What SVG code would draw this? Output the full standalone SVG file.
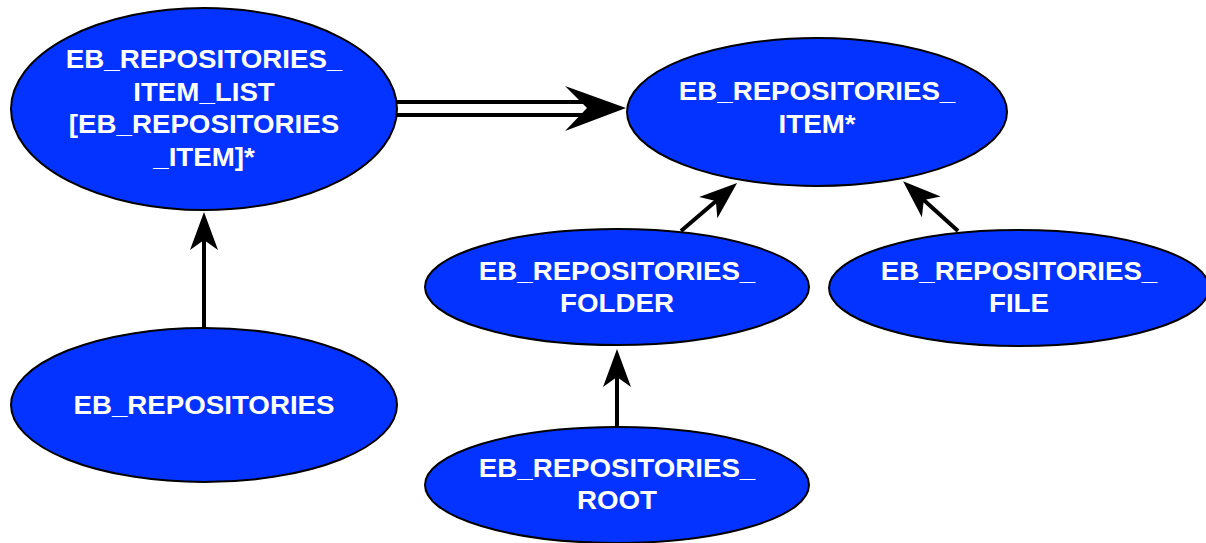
<svg xmlns="http://www.w3.org/2000/svg" width="1206" height="543" viewBox="0 0 1206 543">
  <defs>
    <style>
      .node ellipse { fill: #0433ff; stroke: #000; stroke-width: 2; }
      .node text { fill: #fff; font-family: "Liberation Sans", Arial, sans-serif; font-weight: bold; font-size: 25px; text-anchor: middle; }
      .edge { stroke: #000; stroke-width: 4; fill: none; }
      .head { fill: #000; stroke: none; }
    </style>
    <marker id="arrow" markerUnits="userSpaceOnUse" markerWidth="40" markerHeight="30" viewBox="-40 -15 40 30" refX="-10" refY="0" orient="auto">
      <path class="head" d="M0,0 L-38,-14 L-28,0 L-38,14 Z"/>
    </marker>
  </defs>

  <rect width="1206" height="543" fill="#fff"/>

  <g id="item_list" class="node">
    <ellipse cx="204" cy="109" rx="193" ry="101"/>
    <g transform="translate(204 0) scale(1.108 1)">
      <text x="0" y="68">EB_REPOSITORIES_</text>
      <text x="0" y="101">ITEM_LIST</text>
      <text x="0" y="133">[EB_REPOSITORIES</text>
      <text x="0" y="166">_ITEM]*</text>
    </g>
  </g>

  <g id="item" class="node">
    <ellipse cx="817" cy="112" rx="190" ry="74"/>
    <g transform="translate(817 0) scale(1.108 1)">
      <text x="0" y="100">EB_REPOSITORIES_</text>
      <text x="0" y="133">ITEM*</text>
    </g>
  </g>

  <g id="folder" class="node">
    <ellipse cx="617" cy="287" rx="192" ry="58"/>
    <g transform="translate(617 0) scale(1.108 1)">
      <text x="0" y="280">EB_REPOSITORIES_</text>
      <text x="0" y="312">FOLDER</text>
    </g>
  </g>

  <g id="file" class="node">
    <ellipse cx="1019" cy="288" rx="190" ry="58"/>
    <g transform="translate(1019 0) scale(1.108 1)">
      <text x="0" y="280">EB_REPOSITORIES_</text>
      <text x="0" y="312">FILE</text>
    </g>
  </g>

  <g id="repositories" class="node">
    <ellipse cx="204" cy="405" rx="193" ry="77"/>
    <g transform="translate(204 0) scale(1.108 1)">
      <text x="0" y="414">EB_REPOSITORIES</text>
    </g>
  </g>

  <g id="root" class="node">
    <ellipse cx="617" cy="485" rx="192" ry="58"/>
    <g transform="translate(617 0) scale(1.108 1)">
      <text x="0" y="477">EB_REPOSITORIES_</text>
      <text x="0" y="509">ROOT</text>
    </g>
  </g>

  <!-- connectors -->
  <g id="connectors">
    <!-- ITEM_LIST conforms to ITEM* (double arrow) -->
    <line class="edge" x1="397" y1="102" x2="588" y2="102"/>
    <line class="edge" x1="397" y1="115" x2="588" y2="115"/>
    <path class="head" d="M626,108 L565,86 L587,108 L565,131 Z"/>
    <line class="edge" x1="204" y1="328" x2="204" y2="222" marker-end="url(#arrow)"/>
    <line class="edge" x1="681" y1="231" x2="729.5" y2="189.4" marker-end="url(#arrow)"/>
    <line class="edge" x1="958" y1="231" x2="910.5" y2="188" marker-end="url(#arrow)"/>
    <line class="edge" x1="617" y1="427" x2="617" y2="359" marker-end="url(#arrow)"/>
  </g>
</svg>
